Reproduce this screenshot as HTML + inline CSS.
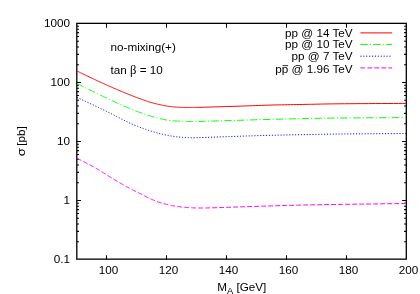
<!DOCTYPE html>
<html><head><meta charset="utf-8"><title>plot</title>
<style>html,body{margin:0;padding:0;background:#fff;width:420px;height:294px;overflow:hidden}</style>
</head><body>
<svg width="420" height="294" viewBox="0 0 420 294" style="position:absolute;left:0;top:0;will-change:transform">
<path d="M76.80,82.50 h4.20 M406.30,82.50 h-4.20 M76.80,64.74 h2.20 M406.30,64.74 h-2.20 M76.80,54.35 h2.20 M406.30,54.35 h-2.20 M76.80,46.98 h2.20 M406.30,46.98 h-2.20 M76.80,41.26 h2.20 M406.30,41.26 h-2.20 M76.80,36.59 h2.20 M406.30,36.59 h-2.20 M76.80,32.64 h2.20 M406.30,32.64 h-2.20 M76.80,29.22 h2.20 M406.30,29.22 h-2.20 M76.80,26.20 h2.20 M406.30,26.20 h-2.20 M76.80,141.50 h4.20 M406.30,141.50 h-4.20 M76.80,123.74 h2.20 M406.30,123.74 h-2.20 M76.80,113.35 h2.20 M406.30,113.35 h-2.20 M76.80,105.98 h2.20 M406.30,105.98 h-2.20 M76.80,100.26 h2.20 M406.30,100.26 h-2.20 M76.80,95.59 h2.20 M406.30,95.59 h-2.20 M76.80,91.64 h2.20 M406.30,91.64 h-2.20 M76.80,88.22 h2.20 M406.30,88.22 h-2.20 M76.80,85.20 h2.20 M406.30,85.20 h-2.20 M76.80,200.50 h4.20 M406.30,200.50 h-4.20 M76.80,182.74 h2.20 M406.30,182.74 h-2.20 M76.80,172.35 h2.20 M406.30,172.35 h-2.20 M76.80,164.98 h2.20 M406.30,164.98 h-2.20 M76.80,159.26 h2.20 M406.30,159.26 h-2.20 M76.80,154.59 h2.20 M406.30,154.59 h-2.20 M76.80,150.64 h2.20 M406.30,150.64 h-2.20 M76.80,147.22 h2.20 M406.30,147.22 h-2.20 M76.80,144.20 h2.20 M406.30,144.20 h-2.20 M76.80,241.74 h2.20 M406.30,241.74 h-2.20 M76.80,231.35 h2.20 M406.30,231.35 h-2.20 M76.80,223.98 h2.20 M406.30,223.98 h-2.20 M76.80,218.26 h2.20 M406.30,218.26 h-2.20 M76.80,213.59 h2.20 M406.30,213.59 h-2.20 M76.80,209.64 h2.20 M406.30,209.64 h-2.20 M76.80,206.22 h2.20 M406.30,206.22 h-2.20 M76.80,203.20 h2.20 M406.30,203.20 h-2.20 M106.50,259.50 v-4.2 M106.50,23.50 v4.2 M166.50,259.50 v-4.2 M166.50,23.50 v4.2 M226.50,259.50 v-4.2 M226.50,23.50 v4.2 M286.50,259.50 v-4.2 M286.50,23.50 v4.2 M346.50,259.50 v-4.2 M346.50,23.50 v4.2" stroke="#000" stroke-width="1.05" fill="none"/>
<rect x="76.80" y="23.35" width="329.50" height="235.80" fill="none" stroke="#000" stroke-width="1.3"/>
<path d="M77.00,71.00 L77.64,71.31 L78.45,71.70 L79.41,72.17 L80.48,72.69 L81.65,73.26 L82.88,73.86 L84.14,74.47 L85.41,75.09 L86.66,75.69 L87.86,76.27 L88.98,76.81 L90.00,77.30 L90.94,77.75 L91.84,78.18 L92.71,78.59 L93.56,78.99 L94.38,79.38 L95.19,79.76 L95.99,80.14 L96.78,80.51 L97.57,80.88 L98.37,81.25 L99.18,81.62 L100.00,82.00 L100.83,82.38 L101.67,82.76 L102.50,83.14 L103.33,83.52 L104.17,83.90 L105.00,84.27 L105.83,84.65 L106.67,85.02 L107.50,85.39 L108.33,85.76 L109.17,86.13 L110.00,86.50 L110.83,86.87 L111.67,87.23 L112.50,87.59 L113.33,87.96 L114.17,88.32 L115.00,88.67 L115.83,89.03 L116.67,89.39 L117.50,89.74 L118.33,90.10 L119.17,90.45 L120.00,90.80 L120.83,91.15 L121.67,91.50 L122.50,91.85 L123.33,92.19 L124.17,92.54 L125.00,92.88 L125.83,93.22 L126.67,93.56 L127.50,93.90 L128.33,94.24 L129.17,94.57 L130.00,94.90 L130.83,95.23 L131.67,95.55 L132.50,95.88 L133.33,96.20 L134.17,96.52 L135.00,96.84 L135.83,97.15 L136.67,97.47 L137.50,97.78 L138.33,98.09 L139.17,98.39 L140.00,98.70 L140.83,99.01 L141.67,99.31 L142.50,99.62 L143.33,99.93 L144.17,100.23 L145.00,100.53 L145.83,100.83 L146.67,101.12 L147.50,101.40 L148.33,101.68 L149.17,101.94 L150.00,102.20 L150.83,102.45 L151.67,102.68 L152.50,102.91 L153.33,103.13 L154.17,103.35 L155.00,103.56 L155.83,103.76 L156.67,103.96 L157.50,104.15 L158.33,104.34 L159.17,104.52 L160.00,104.70 L160.83,104.88 L161.67,105.05 L162.50,105.22 L163.33,105.39 L164.17,105.55 L165.00,105.71 L165.83,105.86 L166.67,106.00 L167.50,106.14 L168.33,106.27 L169.17,106.39 L170.00,106.50 L170.83,106.60 L171.67,106.70 L172.50,106.79 L173.33,106.87 L174.17,106.94 L175.00,107.01 L175.83,107.07 L176.67,107.12 L177.50,107.17 L178.33,107.22 L179.17,107.26 L180.00,107.30 L180.83,107.33 L181.67,107.36 L182.50,107.38 L183.33,107.39 L184.17,107.40 L185.00,107.41 L185.83,107.41 L186.67,107.41 L187.50,107.41 L188.33,107.40 L189.17,107.40 L190.00,107.40 L190.75,107.40 L191.38,107.41 L191.91,107.41 L192.41,107.41 L192.90,107.42 L193.44,107.42 L194.06,107.42 L194.81,107.41 L195.74,107.39 L196.89,107.37 L198.29,107.34 L200.00,107.30 L202.04,107.25 L204.39,107.19 L206.99,107.12 L209.81,107.04 L212.81,106.96 L215.94,106.87 L219.15,106.78 L222.41,106.68 L225.66,106.59 L228.88,106.49 L232.00,106.39 L235.00,106.30 L237.92,106.21 L240.83,106.11 L243.75,106.00 L246.67,105.90 L249.58,105.79 L252.50,105.68 L255.42,105.57 L258.33,105.47 L261.25,105.37 L264.17,105.27 L267.08,105.18 L270.00,105.10 L272.92,105.02 L275.83,104.95 L278.75,104.89 L281.67,104.83 L284.58,104.77 L287.50,104.71 L290.42,104.66 L293.33,104.61 L296.25,104.56 L299.17,104.51 L302.08,104.45 L305.00,104.40 L307.82,104.35 L310.47,104.29 L313.02,104.24 L315.52,104.19 L318.01,104.13 L320.56,104.08 L323.22,104.03 L326.04,103.98 L329.07,103.93 L332.37,103.89 L336.00,103.84 L340.00,103.80 L344.62,103.76 L349.97,103.72 L355.87,103.68 L362.15,103.64 L368.64,103.60 L375.19,103.56 L381.61,103.53 L387.74,103.50 L393.41,103.47 L398.46,103.44 L402.71,103.42 L406.00,103.40" stroke="#ff0000" stroke-width="1" fill="none"/>
<path d="M77.00,83.50 L77.64,83.82 L78.45,84.23 L79.41,84.71 L80.48,85.24 L81.65,85.83 L82.88,86.44 L84.14,87.08 L85.41,87.71 L86.66,88.34 L87.86,88.93 L88.98,89.49 L90.00,90.00 L90.94,90.46 L91.84,90.91 L92.71,91.34 L93.56,91.76 L94.38,92.17 L95.19,92.56 L95.99,92.95 L96.78,93.34 L97.57,93.73 L98.37,94.11 L99.18,94.50 L100.00,94.90 L100.83,95.30 L101.67,95.69 L102.50,96.09 L103.33,96.48 L104.17,96.87 L105.00,97.26 L105.83,97.64 L106.67,98.03 L107.50,98.42 L108.33,98.81 L109.17,99.21 L110.00,99.60 L110.83,100.00 L111.67,100.40 L112.50,100.81 L113.33,101.21 L114.17,101.62 L115.00,102.03 L115.83,102.44 L116.67,102.84 L117.50,103.24 L118.33,103.63 L119.17,104.02 L120.00,104.40 L120.83,104.77 L121.67,105.14 L122.50,105.50 L123.33,105.86 L124.17,106.21 L125.00,106.56 L125.83,106.90 L126.67,107.24 L127.50,107.59 L128.33,107.92 L129.17,108.26 L130.00,108.60 L130.83,108.94 L131.67,109.27 L132.50,109.61 L133.33,109.94 L134.17,110.27 L135.00,110.60 L135.83,110.93 L136.67,111.25 L137.50,111.57 L138.33,111.88 L139.17,112.19 L140.00,112.50 L140.83,112.80 L141.67,113.10 L142.50,113.40 L143.33,113.70 L144.17,113.99 L145.00,114.28 L145.83,114.56 L146.67,114.84 L147.50,115.11 L148.33,115.38 L149.17,115.64 L150.00,115.90 L150.83,116.15 L151.67,116.40 L152.50,116.64 L153.33,116.88 L154.17,117.12 L155.00,117.34 L155.83,117.57 L156.67,117.79 L157.50,118.00 L158.33,118.20 L159.17,118.41 L160.00,118.60 L160.83,118.79 L161.67,118.98 L162.50,119.16 L163.33,119.34 L164.17,119.51 L165.00,119.67 L165.83,119.83 L166.67,119.99 L167.50,120.13 L168.33,120.26 L169.17,120.39 L170.00,120.50 L170.83,120.60 L171.67,120.69 L172.50,120.77 L173.33,120.84 L174.17,120.90 L175.00,120.95 L175.83,121.00 L176.67,121.04 L177.50,121.08 L178.33,121.12 L179.17,121.16 L180.00,121.20 L180.83,121.24 L181.67,121.28 L182.50,121.31 L183.33,121.34 L184.17,121.37 L185.00,121.40 L185.83,121.42 L186.67,121.44 L187.50,121.46 L188.33,121.48 L189.17,121.49 L190.00,121.50 L190.75,121.51 L191.38,121.52 L191.91,121.52 L192.41,121.53 L192.90,121.53 L193.44,121.53 L194.06,121.53 L194.81,121.51 L195.74,121.50 L196.89,121.47 L198.29,121.44 L200.00,121.40 L202.04,121.35 L204.39,121.29 L206.99,121.21 L209.81,121.13 L212.81,121.05 L215.94,120.96 L219.15,120.86 L222.41,120.77 L225.66,120.67 L228.88,120.58 L232.00,120.49 L235.00,120.40 L237.92,120.32 L240.83,120.23 L243.75,120.15 L246.67,120.06 L249.58,119.97 L252.50,119.89 L255.42,119.80 L258.33,119.72 L261.25,119.64 L264.17,119.56 L267.08,119.48 L270.00,119.40 L272.92,119.33 L275.83,119.25 L278.75,119.18 L281.67,119.11 L284.58,119.04 L287.50,118.97 L290.42,118.91 L293.33,118.84 L296.25,118.78 L299.17,118.72 L302.08,118.66 L305.00,118.60 L307.82,118.54 L310.47,118.49 L313.02,118.43 L315.52,118.38 L318.01,118.33 L320.56,118.28 L323.22,118.23 L326.04,118.18 L329.07,118.13 L332.37,118.09 L336.00,118.04 L340.00,118.00 L344.62,117.96 L349.97,117.92 L355.87,117.88 L362.15,117.84 L368.64,117.80 L375.19,117.76 L381.61,117.73 L387.74,117.70 L393.41,117.67 L398.46,117.64 L402.71,117.62 L406.00,117.60" stroke="#00ff00" stroke-width="1" fill="none" stroke-dasharray="7.3 2.3 1 2.3"/>
<path d="M77.00,97.40 L77.64,97.70 L78.45,98.08 L79.41,98.53 L80.48,99.03 L81.65,99.58 L82.88,100.16 L84.14,100.75 L85.41,101.34 L86.66,101.93 L87.86,102.49 L88.98,103.02 L90.00,103.50 L90.94,103.94 L91.84,104.36 L92.71,104.77 L93.56,105.16 L94.38,105.55 L95.19,105.92 L95.99,106.30 L96.78,106.67 L97.57,107.04 L98.37,107.42 L99.18,107.81 L100.00,108.20 L100.83,108.60 L101.67,109.00 L102.50,109.41 L103.33,109.81 L104.17,110.22 L105.00,110.62 L105.83,111.03 L106.67,111.44 L107.50,111.86 L108.33,112.27 L109.17,112.68 L110.00,113.10 L110.83,113.52 L111.67,113.94 L112.50,114.36 L113.33,114.79 L114.17,115.22 L115.00,115.64 L115.83,116.07 L116.67,116.50 L117.50,116.93 L118.33,117.35 L119.17,117.78 L120.00,118.20 L120.83,118.62 L121.67,119.05 L122.50,119.48 L123.33,119.91 L124.17,120.34 L125.00,120.76 L125.83,121.19 L126.67,121.60 L127.50,122.02 L128.33,122.42 L129.17,122.82 L130.00,123.20 L130.83,123.58 L131.67,123.94 L132.50,124.30 L133.33,124.66 L134.17,125.00 L135.00,125.34 L135.83,125.68 L136.67,126.01 L137.50,126.34 L138.33,126.66 L139.17,126.98 L140.00,127.30 L140.83,127.61 L141.67,127.93 L142.50,128.23 L143.33,128.53 L144.17,128.83 L145.00,129.12 L145.83,129.41 L146.67,129.70 L147.50,129.98 L148.33,130.26 L149.17,130.53 L150.00,130.80 L150.83,131.07 L151.67,131.33 L152.50,131.59 L153.33,131.84 L154.17,132.09 L155.00,132.34 L155.83,132.58 L156.67,132.81 L157.50,133.05 L158.33,133.27 L159.17,133.49 L160.00,133.70 L160.83,133.91 L161.67,134.11 L162.50,134.30 L163.33,134.49 L164.17,134.67 L165.00,134.85 L165.83,135.02 L166.67,135.19 L167.50,135.35 L168.33,135.51 L169.17,135.66 L170.00,135.80 L170.83,135.94 L171.67,136.07 L172.50,136.20 L173.33,136.32 L174.17,136.43 L175.00,136.54 L175.83,136.65 L176.67,136.75 L177.50,136.84 L178.33,136.93 L179.17,137.02 L180.00,137.10 L180.83,137.18 L181.67,137.25 L182.50,137.32 L183.33,137.38 L184.17,137.44 L185.00,137.49 L185.83,137.54 L186.67,137.58 L187.50,137.62 L188.33,137.65 L189.17,137.68 L190.00,137.70 L190.75,137.72 L191.38,137.74 L191.91,137.75 L192.41,137.76 L192.90,137.76 L193.44,137.76 L194.06,137.76 L194.81,137.74 L195.74,137.72 L196.89,137.69 L198.29,137.65 L200.00,137.60 L202.04,137.54 L204.39,137.46 L206.99,137.38 L209.81,137.28 L212.81,137.17 L215.94,137.06 L219.15,136.95 L222.41,136.83 L225.66,136.72 L228.88,136.61 L232.00,136.50 L235.00,136.40 L237.92,136.30 L240.83,136.21 L243.75,136.11 L246.67,136.01 L249.58,135.91 L252.50,135.82 L255.42,135.72 L258.33,135.63 L261.25,135.54 L264.17,135.46 L267.08,135.38 L270.00,135.30 L272.92,135.23 L275.83,135.16 L278.75,135.09 L281.67,135.03 L284.58,134.97 L287.50,134.92 L290.42,134.86 L293.33,134.81 L296.25,134.76 L299.17,134.71 L302.08,134.65 L305.00,134.60 L307.82,134.55 L310.47,134.49 L313.02,134.44 L315.52,134.39 L318.01,134.34 L320.56,134.29 L323.22,134.24 L326.04,134.19 L329.07,134.14 L332.37,134.09 L336.00,134.05 L340.00,134.00 L344.62,133.95 L349.97,133.91 L355.87,133.86 L362.15,133.81 L368.64,133.76 L375.19,133.71 L381.61,133.67 L387.74,133.63 L393.41,133.59 L398.46,133.55 L402.71,133.52 L406.00,133.50" stroke="#0000ff" stroke-width="1" fill="none" stroke-dasharray="1.1 1.8"/>
<path d="M77.00,158.30 L77.64,158.63 L78.45,159.04 L79.41,159.53 L80.48,160.08 L81.65,160.67 L82.88,161.30 L84.14,161.95 L85.41,162.60 L86.66,163.25 L87.86,163.87 L88.98,164.46 L90.00,165.00 L90.94,165.50 L91.84,165.99 L92.71,166.46 L93.56,166.92 L94.38,167.37 L95.19,167.82 L95.99,168.27 L96.78,168.71 L97.57,169.17 L98.37,169.63 L99.18,170.11 L100.00,170.60 L100.83,171.11 L101.67,171.63 L102.50,172.16 L103.33,172.69 L104.17,173.24 L105.00,173.78 L105.83,174.33 L106.67,174.87 L107.50,175.42 L108.33,175.95 L109.17,176.48 L110.00,177.00 L110.83,177.51 L111.67,178.02 L112.50,178.52 L113.33,179.01 L114.17,179.51 L115.00,180.00 L115.83,180.49 L116.67,180.97 L117.50,181.46 L118.33,181.94 L119.17,182.42 L120.00,182.90 L120.83,183.38 L121.67,183.86 L122.50,184.34 L123.33,184.81 L124.17,185.28 L125.00,185.76 L125.83,186.22 L126.67,186.69 L127.50,187.15 L128.33,187.60 L129.17,188.06 L130.00,188.50 L130.83,188.94 L131.67,189.37 L132.50,189.79 L133.33,190.21 L134.17,190.62 L135.00,191.03 L135.83,191.44 L136.67,191.85 L137.50,192.26 L138.33,192.67 L139.17,193.08 L140.00,193.50 L140.83,193.93 L141.67,194.36 L142.50,194.80 L143.33,195.24 L144.17,195.68 L145.00,196.12 L145.83,196.56 L146.67,196.99 L147.50,197.41 L148.33,197.82 L149.17,198.22 L150.00,198.60 L150.83,198.97 L151.67,199.33 L152.50,199.69 L153.33,200.03 L154.17,200.37 L155.00,200.70 L155.83,201.02 L156.67,201.33 L157.50,201.64 L158.33,201.93 L159.17,202.22 L160.00,202.50 L160.83,202.77 L161.67,203.03 L162.50,203.29 L163.33,203.53 L164.17,203.77 L165.00,203.99 L165.83,204.21 L166.67,204.43 L167.50,204.63 L168.33,204.83 L169.17,205.02 L170.00,205.20 L170.83,205.37 L171.67,205.54 L172.50,205.69 L173.33,205.84 L174.17,205.98 L175.00,206.11 L175.83,206.24 L176.67,206.36 L177.50,206.47 L178.33,206.59 L179.17,206.69 L180.00,206.80 L180.83,206.90 L181.67,207.00 L182.50,207.09 L183.33,207.17 L184.17,207.26 L185.00,207.33 L185.83,207.40 L186.67,207.47 L187.50,207.53 L188.33,207.59 L189.17,207.65 L190.00,207.70 L190.82,207.75 L191.63,207.79 L192.43,207.83 L193.22,207.86 L194.01,207.89 L194.81,207.92 L195.62,207.94 L196.44,207.96 L197.29,207.97 L198.16,207.99 L199.06,207.99 L200.00,208.00 L200.90,208.00 L201.72,208.01 L202.48,208.01 L203.22,208.01 L203.99,208.00 L204.81,207.99 L205.73,207.98 L206.78,207.96 L207.99,207.93 L209.41,207.90 L211.07,207.85 L213.00,207.80 L215.17,207.74 L217.51,207.66 L220.02,207.58 L222.70,207.49 L225.55,207.40 L228.56,207.29 L231.74,207.19 L235.07,207.07 L238.57,206.96 L242.22,206.84 L246.04,206.72 L250.00,206.60 L254.08,206.47 L258.25,206.34 L262.54,206.20 L266.96,206.06 L271.55,205.91 L276.31,205.76 L281.28,205.61 L286.48,205.46 L291.93,205.32 L297.65,205.17 L303.67,205.03 L310.00,204.90 L317.05,204.77 L325.03,204.63 L333.72,204.50 L342.89,204.36 L352.31,204.22 L361.75,204.09 L370.98,203.97 L379.78,203.85 L387.91,203.74 L395.14,203.65 L401.25,203.57 L406.00,203.50" stroke="#ff00ff" stroke-width="1" fill="none" stroke-dasharray="4.8 2.2"/>
<path d="M360.4,32.9 H392.2" stroke="#ff0000" stroke-width="1" fill="none"/>
<path d="M360.4,44.4 H392.2" stroke="#00ff00" stroke-width="1" fill="none" stroke-dasharray="7.3 2.3 1 2.3"/>
<path d="M360.4,56.2 H392.2" stroke="#0000ff" stroke-width="1" fill="none" stroke-dasharray="1.1 1.8"/>
<path d="M360.4,67.9 H392.2" stroke="#ff00ff" stroke-width="1" fill="none" stroke-dasharray="4.8 2.2"/>
<g font-family="'Liberation Sans', sans-serif" font-size="11.70" fill="#000">
<text x="70" y="26.90" text-anchor="end">1000</text>
<text x="70" y="85.90" text-anchor="end">100</text>
<text x="70" y="144.90" text-anchor="end">10</text>
<text x="70" y="203.90" text-anchor="end">1</text>
<text x="70" y="262.90" text-anchor="end">0.1</text>
<text x="108.50" y="274.0" text-anchor="middle">100</text>
<text x="168.50" y="274.0" text-anchor="middle">120</text>
<text x="228.50" y="274.0" text-anchor="middle">140</text>
<text x="288.50" y="274.0" text-anchor="middle">160</text>
<text x="348.50" y="274.0" text-anchor="middle">180</text>
<text x="408.50" y="274.0" text-anchor="middle">200</text>
<text x="352.6" y="37.0" text-anchor="end">pp @ 14 TeV</text>
<text x="352.6" y="48.4" text-anchor="end">pp @ 10 TeV</text>
<text x="352.6" y="60.0" text-anchor="end">pp @ 7 TeV</text>
<text x="352.6" y="73.3" text-anchor="end">pp @ 1.96 TeV</text>
<path d="M282.6,65.6 h5.5" stroke="#000" stroke-width="0.8"/>
<text x="110.5" y="51">no-mixing(+)</text>
<text x="110.5" y="74.4">tan <tspan font-family="'Liberation Serif', serif" font-size="12.6">β</tspan> = 10</text>
<text x="217.2" y="290.7">M<tspan font-size="9.4" dy="3.4">A</tspan><tspan dy="-3.4"> [GeV]</tspan></text>
<g transform="translate(25.4,156.3) rotate(-90)"><text transform="scale(1.12,1.0)">σ</text><text x="10.6">[pb]</text></g>
</g>
</svg>
</body></html>
